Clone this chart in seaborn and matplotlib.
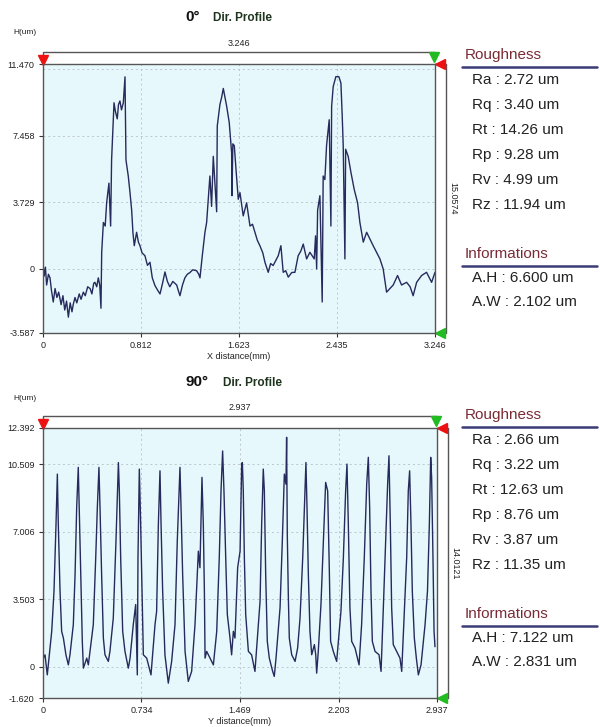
import numpy as np
import pandas as pd
import seaborn as sns
import matplotlib.pyplot as plt

# ---- profile 0 deg ----
x0 = [0.000, 0.010, 0.020, 0.030, 0.045, 0.058, 0.070, 0.085, 0.100, 0.115,
      0.130, 0.150, 0.165, 0.180, 0.195, 0.210, 0.225, 0.240, 0.250, 0.265,
      0.280, 0.300, 0.315, 0.334, 0.350, 0.370, 0.390, 0.405, 0.420, 0.430,
      0.445, 0.458, 0.470, 0.480, 0.486, 0.500, 0.515, 0.527, 0.546, 0.560,
      0.568, 0.588, 0.600, 0.615, 0.625, 0.637, 0.650, 0.665, 0.679, 0.687,
      0.706, 0.720, 0.734, 0.745, 0.756, 0.775, 0.790, 0.803, 0.820, 0.844,
      0.865, 0.886, 0.905, 0.927, 0.950, 0.969, 0.990, 1.010, 1.030, 1.050,
      1.075, 1.107, 1.120, 1.134, 1.155, 1.175, 1.195, 1.217, 1.240, 1.272,
      1.290, 1.300, 1.319, 1.341, 1.355, 1.370, 1.382, 1.396, 1.410, 1.438,
      1.443, 1.465, 1.479, 1.493, 1.510, 1.521, 1.542, 1.562, 1.565, 1.572,
      1.584, 1.600, 1.617, 1.631, 1.658, 1.686, 1.714, 1.735, 1.755, 1.775,
      1.796, 1.820, 1.838, 1.865, 1.885, 1.906, 1.930, 1.948, 1.970, 1.989,
      2.010, 2.031, 2.060, 2.086, 2.113, 2.135, 2.155, 2.183, 2.210, 2.246,
      2.257, 2.266, 2.274, 2.293, 2.312, 2.320, 2.334, 2.348, 2.370, 2.384,
      2.390, 2.403, 2.425, 2.450, 2.467, 2.478, 2.486, 2.500, 2.506, 2.527,
      2.550, 2.577, 2.605, 2.624, 2.652, 2.680, 2.707, 2.734, 2.762, 2.790,
      2.817, 2.845, 2.873, 2.900, 2.936, 2.969, 3.011, 3.040, 3.065, 3.094,
      3.135, 3.176, 3.218, 3.246]
h0 = [0.3, -0.4, 0.1, -0.9, -0.3, -0.5, -1.2, -1.85, -1.1, -1.6,
      -1.3, -2.0, -1.5, -2.3, -1.8, -2.7, -1.9, -2.4, -2.0, -1.6,
      -1.9, -1.4, -1.7, -1.3, -1.5, -1.0, -1.1, -1.4, -0.8, -0.75,
      -1.0, -0.5, -0.9, -2.2, 0.93, 2.6, 2.4, 3.7, 4.8, 2.4,
      6.1, 9.3, 8.8, 8.4, 9.2, 9.4, 8.9, 9.3, 10.75, 6.1,
      5.2, 4.3, 3.3, 2.0, 1.3, 2.05, 1.5, 1.3, 0.9, 0.74,
      0.2, 0.37, -0.5, -0.93, -1.2, -1.4, -0.8, -0.17, -0.7, -1.0,
      -0.7, -0.9, -1.2, -1.5, -0.9, -0.5, -0.3, -0.2, -0.05, -0.1,
      -0.3, -0.5, 0.74, 2.05, 2.6, 4.0, 5.2, 3.5, 6.3, 3.2,
      8.0, 9.2, 9.6, 10.1, 9.5, 9.1, 8.2, 6.5, 4.1, 7.0,
      6.9, 5.4, 3.9, 4.27, 2.97, 3.7, 2.4, 2.5, 2.05, 1.6,
      1.3, 0.9, 0.37, -0.19, 0.3, 0.19, 0.5, 0.74, 1.3, -0.19,
      -0.1, -0.46, -0.2, -0.19, 0.74, 1.0, 1.39, 0.56, 0.93, 0.56,
      1.85, 0.0, 3.3, 4.1, -1.85, 5.2, 5.0, 6.9, 8.35, 2.4,
      9.1, 10.2, 10.76, 10.76, 10.4, 8.5, 6.9, 0.56, 6.7, 6.3,
      5.4, 4.45, 3.7, 2.6, 1.5, 2.05, 1.67, 1.3, 0.93, 0.56,
      0.0, -1.3, -1.1, -0.9, -0.37, -0.9, -0.75, -1.0, -1.5, -0.75,
      -0.37, -0.19, -0.75, -0.19]

# ---- profile 90 deg ----
x90 = [0.000, 0.015, 0.032, 0.065, 0.082, 0.097, 0.107, 0.114, 0.127, 0.139,
       0.152, 0.171, 0.189, 0.201, 0.226, 0.239, 0.251, 0.263, 0.271, 0.281,
       0.293, 0.301, 0.326, 0.338, 0.375, 0.393, 0.405, 0.417, 0.425, 0.437,
       0.450, 0.462, 0.487, 0.499, 0.524, 0.544, 0.562, 0.569, 0.579, 0.594,
       0.611, 0.636, 0.649, 0.673, 0.691, 0.703, 0.708, 0.718, 0.728, 0.738,
       0.748, 0.773, 0.805, 0.835, 0.847, 0.860, 0.872, 0.880, 0.892, 0.909,
       0.934, 0.959, 0.984, 1.001, 1.021, 1.029, 1.041, 1.059, 1.083, 1.108,
       1.133, 1.158, 1.170, 1.185, 1.195, 1.203, 1.208, 1.220, 1.245, 1.270,
       1.295, 1.314, 1.327, 1.339, 1.349, 1.362, 1.374, 1.394, 1.406, 1.419,
       1.431, 1.451, 1.469, 1.481, 1.486, 1.493, 1.501, 1.511, 1.531, 1.555,
       1.580, 1.605, 1.618, 1.630, 1.642, 1.650, 1.660, 1.672, 1.687, 1.712,
       1.724, 1.737, 1.767, 1.784, 1.799, 1.811, 1.816, 1.821, 1.829, 1.836,
       1.854, 1.879, 1.898, 1.916, 1.936, 1.953, 1.960, 1.968, 1.978, 1.990,
       2.003, 2.023, 2.033, 2.040, 2.052, 2.072, 2.090, 2.107, 2.122, 2.134,
       2.144, 2.164, 2.189, 2.221, 2.239, 2.256, 2.266, 2.276, 2.288, 2.301,
       2.326, 2.356, 2.375, 2.395, 2.413, 2.425, 2.435, 2.445, 2.455, 2.475,
       2.505, 2.520, 2.537, 2.554, 2.569, 2.579, 2.589, 2.599, 2.611, 2.636,
       2.661, 2.674, 2.691, 2.711, 2.723, 2.733, 2.743, 2.753, 2.768, 2.783,
       2.798, 2.818, 2.848, 2.866, 2.880, 2.890, 2.897, 2.907, 2.915, 2.922]
h90 = [0.4, 0.62, -0.42, 1.84, 3.92, 7.4, 10.0, 7.4, 3.92, 1.84,
       1.49, 0.62, 0.10, 0.62, 2.19, 4.79, 8.26, 10.35, 7.92, 4.79,
       1.32, -0.07, 0.45, 0.10, 2.19, 5.66, 8.26, 10.35, 8.26, 4.79,
       1.49, 0.62, 0.28, 0.8, 2.53, 6.53, 10.6, 9.13, 5.66, 1.84,
       0.8, -0.07, 0.45, 2.19, 3.23, -0.42, 5.66, 10.26, 7.4, 3.92,
       0.62, 0.45, -0.42, 2.19, 2.88, 7.4, 10.17, 7.4, 3.92, 0.62,
       -0.85, 0.28, 2.19, 6.53, 10.35, 8.26, 4.79, 0.8, -0.76, -0.24,
       2.19, 6.0, 5.14, 9.83, 7.4, 3.92, 0.45, 0.8, 0.45, 0.10,
       1.84, 5.66, 9.13, 11.2, 9.13, 5.66, 2.71, 1.49, 0.62, 1.84,
       1.49, 5.14, 6.0, 10.52, 10.6, 9.13, 5.66, 2.71, 0.8, 0.62,
       -0.24, 2.19, 3.40, 7.40, 10.26, 9.13, 4.79, 1.32, 0.45, -0.24,
       -0.5, 0.45, 3.06, 6.53, 10.0, 9.48, 11.91, 6.88, 3.58, 1.49,
       0.62, 0.28, 0.97, 2.53, 5.66, 9.13, 10.6, 8.26, 4.79, 1.84,
       0.625, 1.15, 0.625, -0.33, 0.8, 3.23, 6.53, 9.57, 9.13, 5.14,
       1.32, 0.8, 0.28, 2.88, 5.66, 9.13, 10.52, 7.4, 3.06, 1.32,
       0.97, 0.10, 2.19, 5.66, 9.48, 10.87, 8.26, 3.92, 1.32, 0.8,
       0.625, -0.24, 3.06, 6.53, 9.48, 10.95, 7.4, 3.06, 1.15, 0.8,
       0.45, -0.24, 2.53, 5.66, 9.13, 10.17, 7.4, 3.92, 1.49, 0.45,
       -0.42, 0.10, 2.19, 3.92, 7.4, 10.87, 9.83, 5.66, 1.84, 1.04]

# ---- axis ticks ----
xt0 = [0, 0.812, 1.623, 2.435, 3.246]
yt0 = [-3.587, 0, 3.729, 7.458, 11.470]
yg0 = [0, 3.729, 7.458, 11.187]
xt90 = [0, 0.734, 1.469, 2.203, 2.937]
yt90 = [-1.620, 0, 3.503, 7.006, 10.509, 12.392]
yg90 = [0, 3.503, 7.006, 10.509]

# ---- right panel values ----
rough_names = ["Ra", "Rq", "Rt", "Rp", "Rv", "Rz"]
rough0 = ["2.72", "3.40", "14.26", "9.28", "4.99", "11.94"]
rough90 = ["2.66", "3.22", "12.63", "8.76", "3.87", "11.35"]
info_names = ["A.H", "A.W"]
info0 = ["6.600", "2.102"]
info90 = ["7.122", "2.831"]

sns.set_style("white")
plt.rcParams['font.family'] = ['Liberation Sans', 'DejaVu Sans']

W, H = 600, 727
fig = plt.figure(figsize=(6, 7.27), dpi=100)


def fx(x):
    return x / W


def fy(y):
    return 1 - y / H


line_col = '#262a5c'
bg = '#e7f8fc'


def profile(ax_box, xs, hs, xt, yt, yg, xlab, span, height, title, title_r,
            sub_l, top_px):
    l, t, r, b = ax_box
    ax = fig.add_axes([fx(l), fy(b), fx(r) - fx(l), fy(t) - fy(b)])
    ax.set_facecolor(bg)
    df = pd.DataFrame({"x": xs, "h": hs})
    sns.lineplot(data=df, x="x", y="h", ax=ax, color=line_col, lw=1.0,
                 estimator=None, sort=False)
    ax.set_xlim(xt[0], xt[-1])
    ax.set_ylim(yt[0], yt[-1])
    ax.set_xticks(xt)
    ax.set_xticklabels(["0"] + [f"{v:.3f}" for v in xt[1:]])
    ax.set_yticks(yt)
    ax.set_yticklabels([("0" if v == 0 else f"{v:.3f}") for v in yt])
    for v in yg:
        ax.axhline(v, color='#bcc6cc', lw=0.7, ls=(0, (2, 3)), zorder=0)
    for v in xt[1:-1]:
        ax.axvline(v, color='#bcc6cc', lw=0.7, ls=(0, (2, 3)), zorder=0)
    ax.tick_params(axis='both', labelsize=6.5, length=3, width=0.8,
                   color='#333', labelcolor='#222', pad=3, direction='out',
                   bottom=True, left=True)
    ax.set_xlabel(xlab, fontsize=6.5, labelpad=1, color='#222')
    ax.set_ylabel("")
    for s in ax.spines.values():
        s.set_color('#555')
        s.set_linewidth(1.0)

    # dimension brackets
    hpx = b - t
    wpx = r - l
    ytop = 1 + 12.5 / hpx
    ax.plot([0, 0, 1], [1, ytop, ytop], transform=ax.transAxes,
            color='#555', lw=1, clip_on=False)
    ax.text(0.5, 1 + 20 / hpx, span, transform=ax.transAxes, ha='center',
            va='center', fontsize=6.5, color='#222')
    xr = 1 + 11 / wpx
    ax.plot([1, xr, xr, 1], [1, 1, 0, 0], transform=ax.transAxes,
            color='#555', lw=1, clip_on=False)
    ax.text(1 + 18 / wpx, 0.5, height, transform=ax.transAxes, rotation=270,
            ha='center', va='center', fontsize=6.5, color='#222')
    # cursor markers
    ax.plot([0], [1 + 4 / hpx], marker='v', color='#ee1111', ms=7,
            transform=ax.transAxes, clip_on=False)
    ax.plot([1 - 1 / wpx], [1 + 7 / hpx], marker='v', color='#22bb22', ms=7,
            transform=ax.transAxes, clip_on=False)
    ax.plot([1 + 5 / wpx], [1], marker='<', color='#ee1111', ms=7,
            transform=ax.transAxes, clip_on=False)
    ax.plot([1 + 5 / wpx], [0], marker='<', color='#22bb22', ms=7,
            transform=ax.transAxes, clip_on=False)

    # title and unit label
    fig.text(fx(title_r), fy(top_px), title, ha='right', va='center',
             fontsize=11, fontweight='bold', color='#111')
    fig.text(fx(sub_l), fy(top_px + 1), "Dir. Profile", ha='left',
             va='center', fontsize=8.5, fontweight='bold', color='#1e331e')
    fig.text(fx(25), fy(top_px + 16), "H(um)", ha='center', va='center',
             fontsize=6, color='#222')
    return ax


profile((43, 64, 435, 333), x0, h0, xt0, yt0, yg0, "X distance(mm)",
        "3.246", "15.0574", "0°", 200, 213, 17)
profile((43, 428, 437, 698), x90, h90, xt90, yt90, yg90, "Y distance(mm)",
        "2.937", "14.0121", "90°", 208, 223, 382)


def panel(y0, rvals, ivals):
    fig.text(fx(465), fy(y0), "Roughness", ha='left', va='center',
             fontsize=11, color='#7a2b35')
    fig.add_artist(plt.Line2D([fx(462), fx(597)], [fy(y0 + 12), fy(y0 + 12)],
                              color='#3b3b78', lw=1.8))
    for i, (n, v) in enumerate(zip(rough_names, rvals)):
        fig.text(fx(472), fy(y0 + 25 + 25 * i), f"{n} : {v} um", ha='left',
                 va='center', fontsize=11, color='#222')
    yi = y0 + 199
    fig.text(fx(465), fy(yi), "Informations", ha='left', va='center',
             fontsize=11, color='#7a2b35')
    fig.add_artist(plt.Line2D([fx(462), fx(597)], [fy(yi + 12), fy(yi + 12)],
                              color='#3b3b78', lw=1.8))
    for i, (n, v) in enumerate(zip(info_names, ivals)):
        fig.text(fx(472), fy(yi + 24 + 24 * i), f"{n} : {v} um", ha='left',
                 va='center', fontsize=11, color='#222')


panel(55, rough0, info0)
panel(415, rough90, info90)

fig.savefig("out.png", dpi=100, facecolor='white')
